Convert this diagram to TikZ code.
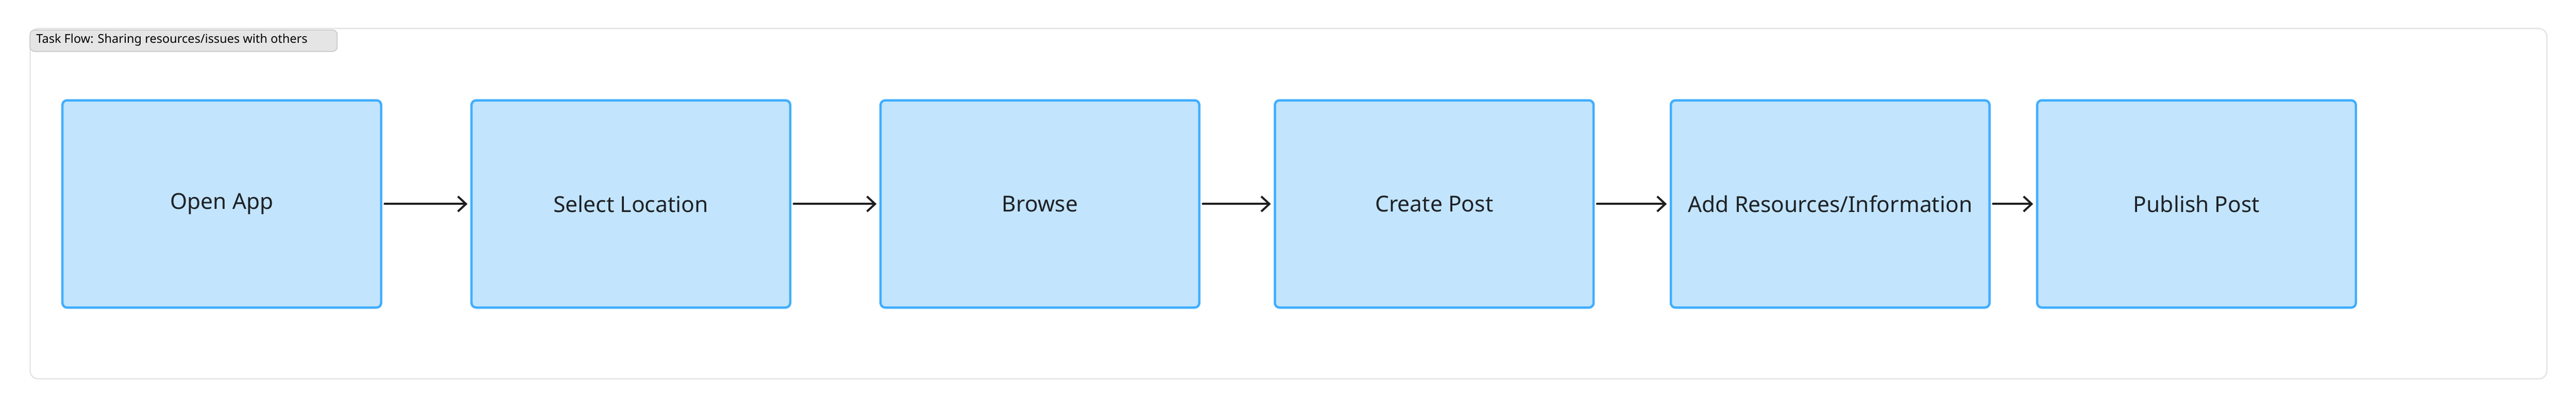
\documentclass[tikz,border=0pt]{standalone}
\usepackage{fontspec}
\setmainfont{Noto Sans}
\usetikzlibrary{arrows.meta}
\begin{document}
\begin{tikzpicture}[x=0.1cm,y=-0.1cm,
  stepbox/.style={draw={rgb,255:red,64;green,174;blue,255}, fill={rgb,255:red,194;green,228;blue,253}, line width=4pt, rounded corners=8pt, minimum width=19.4cm, minimum height=12.6cm, font=\fontsize{38}{44}\selectfont\bfseries, text={rgb,255:red,30;green,33;blue,38}, inner sep=0pt},
  flow/.style={-{Straight Barb[length=14pt,width=26pt,line width=3.5pt]}, line width=3.5pt, line cap=round, draw={rgb,255:red,30;green,30;blue,30}}]
\useasboundingbox (0,0) rectangle (1568,248);
\node[draw={rgb,255:red,226;green,226;blue,226}, line width=2pt, rounded corners=14pt, minimum width=153.2cm, minimum height=21.3cm, anchor=north west] (frame) at (18,17) {};
\node[draw={rgb,255:red,200;green,200;blue,200}, fill={rgb,255:red,229;green,229;blue,229}, line width=1.5pt, rounded corners=8pt, minimum width=18.7cm, minimum height=1.3cm, anchor=north west, inner sep=0pt] (title) at (18,18) {};
\node[anchor=west, font=\fontsize{21}{24}\selectfont, inner sep=0pt] (ttext) at (22,24.3) {Task Flow: Sharing resources/issues with others};
\node[stepbox] (a) at (135,124) {Open App};
\node[stepbox] (b) at (384,124) {Select Location};
\node[stepbox] (c) at (633,124) {Browse};
\node[stepbox] (d) at (873,124) {Create Post};
\node[stepbox] (e) at (1114,124) {Add Resources/Information};
\node[stepbox] (f) at (1337,124) {Publish Post};
\foreach \s/\t in {a/b,b/c,c/d,d/e,e/f} \draw[flow] ([xshift=4pt]\s.east) -- ([xshift=-5pt]\t.west);
\end{tikzpicture}
\end{document}
